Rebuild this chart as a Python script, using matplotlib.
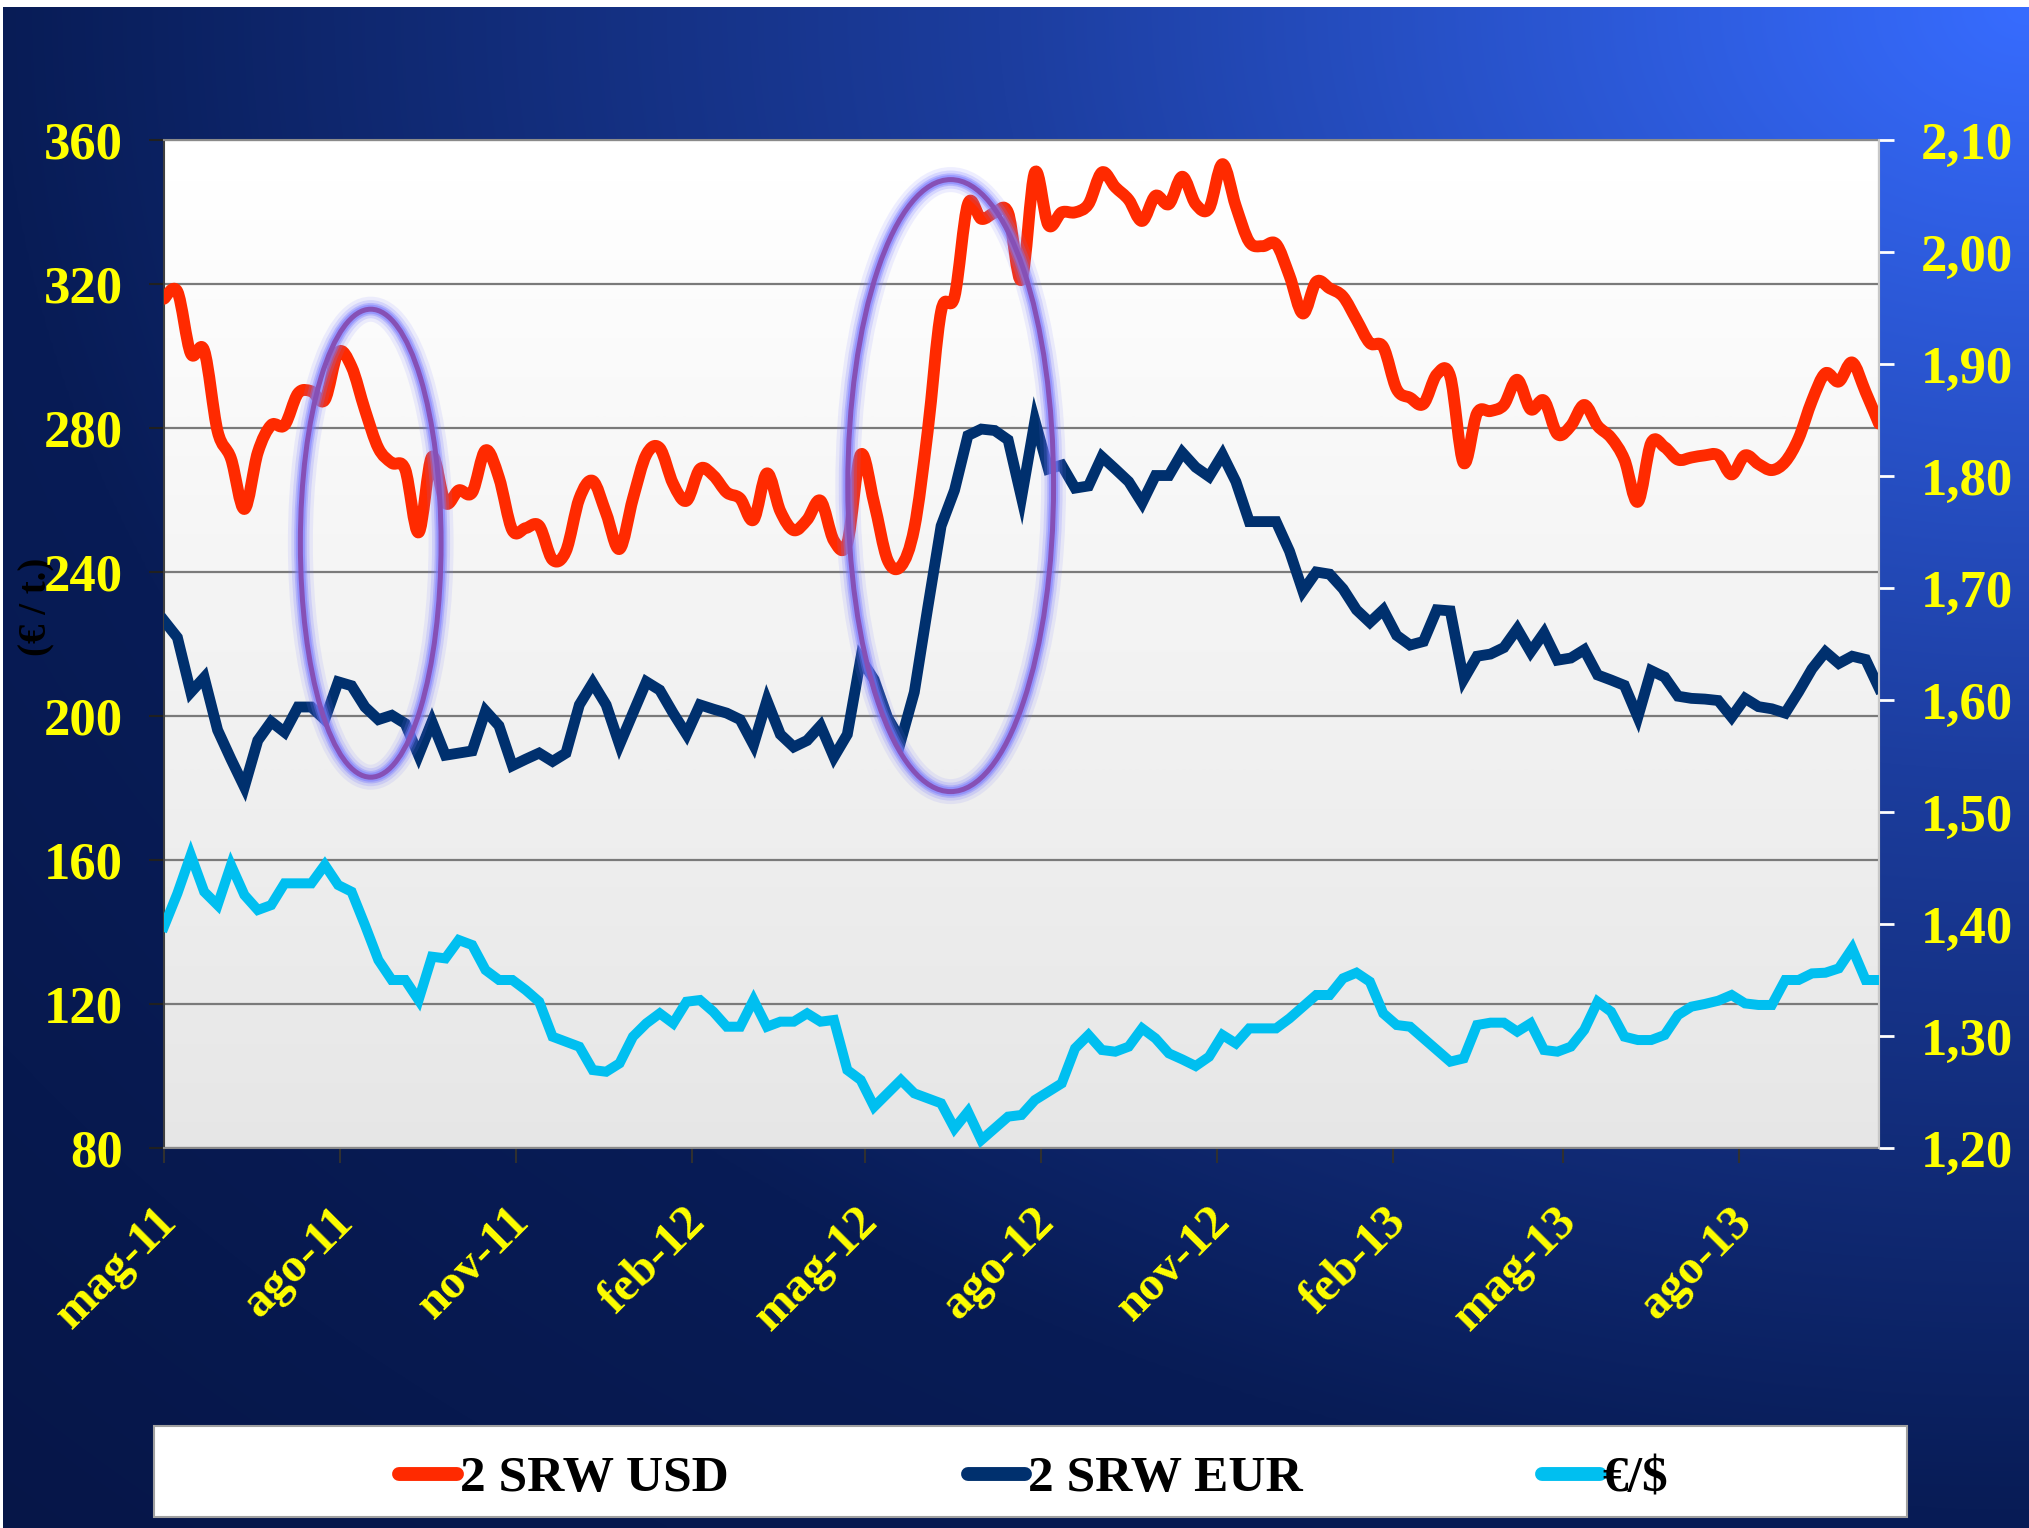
import numpy as np
import pandas as pd
import matplotlib
matplotlib.use("Agg")
import matplotlib.pyplot as plt
import matplotlib.dates as mdates
from matplotlib.path import Path
from matplotlib.patches import PathPatch, Ellipse, Rectangle
from matplotlib.lines import Line2D
from matplotlib.ticker import FixedLocator, FuncFormatter
from matplotlib.transforms import ScaledTranslation

plt.rcParams['font.family'] = ['Liberation Serif', 'DejaVu Serif']
plt.rcParams['font.weight'] = 'bold'

# ---------------- data ----------------
start_date = "2011-05-02"
n_weeks = 129
dates = pd.date_range(start_date, periods=n_weeks, freq="7D")

usd = [315.9, 317.9, 300.7, 301.5, 279.1, 271.5, 257.5, 273.2, 280.8, 280.8,
       289.6, 290.2, 287.8, 301.0, 297.0, 285.0, 274.4, 270.3, 268.5, 251.0,
       272.0, 259.2, 262.7, 262.1, 273.8, 266.2, 251.6, 252.2, 252.8, 243.4,
       245.8, 260.4, 265.3, 256.3, 246.4, 260.4, 272.6, 274.4, 264.5, 259.8,
       268.6, 266.8, 262.1, 260.4, 254.5, 267.4, 256.9, 251.6, 254.5, 259.8,
       248.7, 248.1, 272.6, 259.2, 243.4, 241.6, 252.2, 279.1, 312.4, 316.5,
       342.2, 338.1, 339.8, 339.8, 321.2, 351.0, 336.4, 339.9, 339.9, 342.2,
       351.0, 346.9, 343.4, 337.5, 344.5, 342.2, 349.8, 342.2, 341.0, 353.3,
       341.6, 331.7, 330.5, 331.1, 322.3, 311.8, 320.6, 318.8, 316.5, 310.1,
       303.6, 302.5, 290.8, 288.4, 286.7, 294.9, 294.3, 270.3, 284.1, 284.7,
       286.4, 293.4, 285.2, 287.6, 278.3, 280.6, 286.4, 280.6, 277.3, 271.2,
       259.5, 275.9, 274.7, 271.2, 271.8, 272.4, 272.4, 267.1, 272.4, 270.0,
       268.3, 270.6, 277.1, 287.6, 295.2, 292.9, 298.2, 290.0, 281.2]

eur = [226.5, 221.8, 206.6, 210.7, 196.1, 188.0, 180.3, 193.2, 198.4, 195.5,
       202.5, 202.5, 199.0, 209.5, 208.4, 202.5, 199.0, 200.2, 197.9, 189.1,
       198.4, 189.1, 189.7, 190.3, 201.4, 197.3, 186.2, 188.0, 189.7, 187.4,
       189.7, 203.1, 209.2, 203.1, 192.0, 200.8, 209.5, 207.2, 200.8, 194.9,
       203.1, 201.9, 200.8, 199.0, 192.0, 204.3, 194.9, 191.4, 193.2, 197.3,
       188.6, 194.9, 215.9, 210.1, 199.6, 193.2, 206.6, 230.0, 252.8, 262.7,
       277.9, 279.7, 279.3, 276.7, 260.6, 282.0, 268.6, 269.7, 263.3, 263.9,
       272.0, 268.6, 265.1, 259.2, 266.8, 266.8, 273.2, 269.1, 266.5, 272.6,
       265.1, 254.0, 254.0, 254.0, 245.8, 234.7, 240.0, 239.4, 235.3, 229.5,
       226.0, 229.5, 222.4, 219.7, 220.7, 229.5, 229.2, 210.2, 216.6, 217.2,
       219.0, 224.2, 217.8, 223.1, 215.5, 216.1, 218.4, 211.4, 210.0, 208.5,
       199.7, 212.6, 210.8, 205.5, 204.9, 204.7, 204.3, 199.7, 204.9, 202.6,
       202.0, 200.8, 206.7, 213.1, 217.8, 214.6, 216.6, 215.7, 207.8]

eurusd = [1.3976, 1.4273, 1.4616, 1.4288, 1.4169, 1.4527, 1.4259, 1.4125, 1.4169, 1.4363,
          1.4363, 1.4363, 1.4527, 1.4348, 1.4288, 1.3990, 1.3678, 1.3500, 1.3500, 1.3321,
          1.3708, 1.3693, 1.3857, 1.3812, 1.3589, 1.3500, 1.3500, 1.3410, 1.3306, 1.2994,
          1.2949, 1.2904, 1.2696, 1.2681, 1.2756, 1.2994, 1.3113, 1.3202, 1.3113, 1.3306,
          1.3321, 1.3217, 1.3083, 1.3083, 1.3321, 1.3083, 1.3128, 1.3128, 1.3202, 1.3128,
          1.3143, 1.2696, 1.2607, 1.2369, 1.2488, 1.2607, 1.2488, 1.2443, 1.2399, 1.2175,
          1.2324, 1.2071, 1.2175, 1.2280, 1.2295, 1.2428, 1.2503, 1.2577, 1.2890, 1.3009,
          1.2875, 1.2860, 1.2905, 1.3068, 1.2979, 1.2845, 1.2791, 1.2732, 1.2815, 1.3009,
          1.2934, 1.3068, 1.3068, 1.3068, 1.3157, 1.3262, 1.3366, 1.3366, 1.3515, 1.3565,
          1.3485, 1.3202, 1.3098, 1.3083, 1.2979, 1.2875, 1.2771, 1.2800, 1.3098, 1.3119,
          1.3119, 1.3039, 1.3113, 1.2875, 1.2860, 1.2905, 1.3054, 1.3306, 1.3217, 1.2994,
          1.2964, 1.2964, 1.3009, 1.3187, 1.3262, 1.3286, 1.3315, 1.3366, 1.3291, 1.3277,
          1.3277, 1.3500, 1.3500, 1.3559, 1.3565, 1.3604, 1.3782, 1.3500, 1.3500]

series_labels = ["2 SRW USD", "2 SRW EUR", "€/$"]
tick_dates = ["2011-05-02", "2011-08-02", "2011-11-02", "2012-02-02", "2012-05-02",
              "2012-08-02", "2012-11-02", "2013-02-02", "2013-05-02", "2013-08-02"]
tick_labels = ["mag-11", "ago-11", "nov-11", "feb-12", "mag-12",
               "ago-12", "nov-12", "feb-13", "mag-13", "ago-13"]
left_ticks = [80, 120, 160, 200, 240, 280, 320, 360]
right_ticks = [1.20, 1.30, 1.40, 1.50, 1.60, 1.70, 1.80, 1.90, 2.00, 2.10]
y_label = "(€ / t.)"

# highlighted periods: (centre date, centre value, width in days, height in €/t)
highlights = [("2011-08-18", 248.0, 73.5, 130.0),
              ("2012-06-16", 264.0, 107.5, 170.0)]

# ---------------- style ----------------
RED = "#FF2A00"
NAVY = "#00306E"
CYAN = "#00BFF0"
YELLOW = "#FFFF00"

W, H = 2029, 1528
fig = plt.figure(figsize=(W / 100, H / 100), dpi=100, facecolor="white")

# background gradient (bright at top-right, dark navy elsewhere)
bg = fig.add_axes([3 / W, 0, 1 - 3 / W, 1 - 7 / H], zorder=-10)
bg.axis("off")
ny, nx = 382, 507
ys = np.linspace(7, H, ny)
xs = np.linspace(3, W, nx)
X, Y = np.meshgrid(xs, ys)
D = np.sqrt((W - X) ** 2 + (1.35 * (Y - 7)) ** 2)
stops = [0, 1030, 2029, 2900]
cols = np.array([[55, 108, 255], [28, 61, 158], [8, 28, 86], [6, 22, 72]]) / 255.0
img = np.stack([np.interp(D, stops, cols[:, c]) for c in range(3)], axis=-1)
bg.imshow(img, aspect="auto", extent=[0, 1, 0, 1], interpolation="bilinear")
bg.set_xlim(0, 1)
bg.set_ylim(0, 1)

# main axes
ax = fig.add_axes([164 / W, 1 - 1148 / H, 1715 / W, 1008 / H])
grad = np.linspace(1.0, 0.90, 256)[:, None] * np.ones((1, 2))
ax.imshow(grad, extent=[0, 1, 0, 1], transform=ax.transAxes, aspect="auto",
          cmap="gray", vmin=0, vmax=1, zorder=0, interpolation="bilinear")

xn = mdates.date2num(dates)
ax.set_xlim(xn[0], xn[-1])
ax.set_ylim(80, 360)
ax.set_yticks(left_ticks)
ax.set_axisbelow(True)
ax.yaxis.grid(True, color="#7a7a7a", lw=1.6)

# smoothed USD line (Bezier through the weekly points)
pts = np.column_stack([xn, usd])
n = len(pts)
verts = [pts[0]]
codes = [Path.MOVETO]
for k in range(n - 1):
    p0 = pts[max(k - 1, 0)]
    p1 = pts[k]
    p2 = pts[k + 1]
    p3 = pts[min(k + 2, n - 1)]
    c1 = p1 + (p2 - p0) / 6.0
    c2 = p2 - (p3 - p1) / 6.0
    verts += [c1, c2, p2]
    codes += [Path.CURVE4] * 3
ax.add_patch(PathPatch(Path(verts, codes), fill=False, ec=RED, lw=8.5,
                       capstyle="round", joinstyle="round", zorder=3,
                       transform=ax.transData))

ax.plot(xn, eur, color=NAVY, lw=7.8, solid_joinstyle="miter", zorder=3)

# highlight ellipses
for cd, cv, wd, hv in highlights:
    cx = mdates.date2num(pd.Timestamp(cd))
    for lw, a in [(18, 0.12), (13, 0.2), (9, 0.35), (6.5, 0.5)]:
        ax.add_patch(Ellipse((cx, cv), wd, hv, fill=False, ec="#7a7aff",
                             lw=lw, alpha=a, zorder=6))
    ax.add_patch(Ellipse((cx, cv), wd, hv, fill=False, ec="#8650B5",
                         lw=3.6, zorder=7))

# x ticks
ax.xaxis.set_major_locator(FixedLocator(mdates.date2num(pd.to_datetime(tick_dates))))
ax.set_xticklabels(tick_labels, rotation=45, ha="right", va="top",
                   fontsize=35, color=YELLOW, fontweight="bold")
ax.tick_params(axis="x", length=10.8, width=1.5, color="#303030", pad=26)
off = ScaledTranslation(22 / 100, 0, fig.dpi_scale_trans)
for lab in ax.get_xticklabels():
    lab.set_transform(lab.get_transform() + off)

ax.tick_params(axis="y", length=10.8, width=1.5, color="#202020",
               labelcolor=YELLOW, labelsize=38, pad=19)
for s in ax.spines.values():
    s.set_color("#8a8a8a")
    s.set_linewidth(1.5)
ax.spines["left"].set_color("#404040")

# secondary axis for exchange rate
ax2 = ax.twinx()
ax2.set_ylim(1.20, 2.10)
ax2.yaxis.set_major_locator(FixedLocator(right_ticks))
ax2.yaxis.set_major_formatter(FuncFormatter(lambda v, p: f"{v:.2f}".replace(".", ",")))
ax2.plot(xn, eurusd, color=CYAN, lw=7.2, solid_joinstyle="miter", zorder=3)
ax2.tick_params(axis="y", length=10.8, width=2, color="white",
                labelcolor=YELLOW, labelsize=38, pad=19)
for s in ax2.spines.values():
    s.set_visible(False)
ax2.spines["right"].set_visible(True)
ax2.spines["right"].set_color("#c8c8c8")
ax2.spines["right"].set_linewidth(1.5)

# y label (drawn below tick labels)
fig.text(37 / W, 1 - 607 / H, y_label, rotation=90, fontsize=28,
         fontweight="bold", color="black", ha="center", va="center", zorder=-1)

# legend box + legend
fig.add_artist(Rectangle((154 / W, 1 - 1517 / H), 1753 / W, 91 / H,
                         transform=fig.transFigure, fc="white", ec="#a0a0a0",
                         lw=1.5, zorder=1))
handles = [Line2D([], [], color=RED, lw=10, solid_capstyle="round"),
           Line2D([], [], color=NAVY, lw=10, solid_capstyle="round"),
           Line2D([], [], color=CYAN, lw=10, solid_capstyle="round")]
leg = fig.legend(handles, series_labels, loc="center",
                 bbox_to_anchor=(1034 / W, 1 - 1479 / H), ncol=3, frameon=False,
                 prop={"family": "Liberation Serif", "weight": "bold", "size": 37},
                 handlelength=1.12, handletextpad=0.06, columnspacing=4.65)
leg.set_zorder(2)

fig.savefig("out.png", dpi=100, facecolor=fig.get_facecolor())
